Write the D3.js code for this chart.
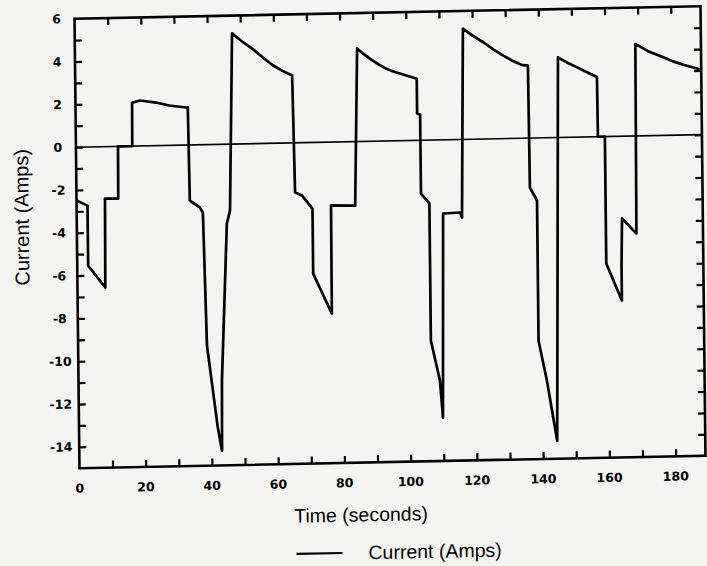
<!DOCTYPE html>
<html>
<head>
<meta charset="utf-8">
<script src="https://cdn.jsdelivr.net/npm/d3@7"></script>
<style>
  html, body { margin: 0; padding: 0; background: #f4f4f2; }
  #chart svg { display: block; }
</style>
</head>
<body>
<div id="chart"></div>
<script>
// Current trace
const timeSeconds = [
    0, 3.3, 3.3, 8.4, 8.6, 12.6, 12.7, 17.0, 17.1, 19.5, 24.3, 28.3, 33.4, 33.9,
    34.2, 37.2, 38.1, 38.9, 41.9, 43.1, 43.3, 45.3, 46.3, 47.5,
    50.5, 53.9, 56.8, 59.8, 62.6, 65.5,
    66.0, 68.1, 71.2, 71.2, 76.7, 76.8, 84.1, 85.2,
    87.0, 89.1, 91.5, 94.0, 96.5, 99.0, 103.1,
    103.1, 104.0, 104.0, 106.5, 106.5, 109.1, 109.9, 110.6, 115.7, 116.3, 117.2,
    120.0, 123.3, 126.3, 129.3, 132.0, 134.8, 136.7,
    136.9, 139.0, 139.0, 141.4, 144.3, 145.8,
    148.5, 151.4, 154.5, 157.5,
    157.6, 159.7, 159.7, 164.3, 164.3, 164.6, 168.9, 169.2,
    173.0, 177.6, 180.5, 183.6, 188.5
];
const currentAmps = [
    -2.49, -2.74, -5.54, -6.58, -2.43, -2.44, 0, 0, 2.02, 2.12, 2.01, 1.86, 1.75, 1.75,
    -2.60, -2.93, -3.17, -9.39, -13.23, -14.31, -11.04, -3.71, -3.10, 5.17,
    4.78, 4.39, 4.00, 3.63, 3.37, 3.15,
    -2.32, -2.47, -3.09, -6.13, -8.01, -2.96, -2.99, 4.35,
    4.10, 3.85, 3.60, 3.37, 3.21, 3.09, 2.88,
    1.25, 1.20, -2.49, -2.96, -9.36, -11.24, -12.98, -3.44, -3.41, -3.65, 5.18,
    4.85, 4.52, 4.18, 3.88, 3.63, 3.43, 3.39,
    -2.31, -2.92, -9.47, -11.35, -14.16, 3.74,
    3.50, 3.27, 3.02, 2.79,
    0, 0, -5.93, -7.67, -6.04, -3.84, -4.56, 4.30,
    3.95, 3.65, 3.45, 3.28, 3.06
];

// Axis ticks
const xTickLabels = [0, 20, 40, 60, 80, 100, 120, 140, 160, 180];
const xMinorTicks = [10, 20, 30, 40, 50, 60, 70, 80, 90, 100, 110, 120, 130, 140, 150, 160, 170, 180];
const yTickLabels = [6, 4, 2, 0, -2, -4, -6, -8, -10, -12, -14];
const yMinorTicks = [5, 4, 3, 2, 1, 0, -1, -2, -3, -4, -5, -6, -7, -8, -9, -10, -11, -12, -13, -14];

const xTitle = 'Time (seconds)';
const yTitle = 'Current (Amps)';
const legendLabel = 'Current (Amps)';

function drawChart() {
    const width = 707;
    const height = 566;
    const tickFont = "'DejaVu Sans', sans-serif";
    const titleFont = "'Liberation Sans', Arial, sans-serif";

    const svg = d3.select('#chart')
        .append('svg')
        .attr('width', width)
        .attr('height', height);

    // the scan is slightly skewed, so the whole figure is too
    const g = svg.append('g')
        .attr('transform', 'matrix(1,-0.02,0.011,1,-2.62,7.79)');

    const x = d3.scaleLinear().domain([0, 189]).range([77, 703]);
    const y = d3.scaleLinear().domain([-15, 6]).range([462, 12.5]);

    // tick marks pointing inward on all four sides
    const styleAxis = sel => {
        sel.select('.domain').remove();
        sel.selectAll('.tick line').attr('stroke', '#000').attr('stroke-width', 2.2);
    };

    g.append('g')
        .attr('transform', `translate(0,${y(-15)})`)
        .call(d3.axisBottom(x).tickValues(xMinorTicks).tickSize(-7).tickFormat(''))
        .call(styleAxis);

    g.append('g')
        .attr('transform', `translate(0,${y(6)})`)
        .call(d3.axisTop(x).tickValues(xMinorTicks).tickSize(-7).tickFormat(''))
        .call(styleAxis);

    g.append('g')
        .attr('transform', `translate(${x(0)},0)`)
        .call(d3.axisLeft(y).tickValues(yMinorTicks).tickSize(-7).tickFormat(''))
        .call(styleAxis);

    g.append('g')
        .attr('transform', `translate(${x(189)},0)`)
        .call(d3.axisRight(y).tickValues(yMinorTicks).tickSize(-7).tickFormat(''))
        .call(styleAxis);

    // tick labels
    g.append('g')
        .selectAll('text')
        .data(xTickLabels)
        .enter()
        .append('text')
        .attr('x', d => x(d))
        .attr('y', y(-15) + 20)
        .attr('dy', '0.35em')
        .attr('text-anchor', 'middle')
        .attr('font-family', tickFont)
        .attr('font-weight', 'bold')
        .attr('font-size', '12.5px')
        .text(d => d);

    g.append('g')
        .selectAll('text')
        .data(yTickLabels)
        .enter()
        .append('text')
        .attr('x', 59)
        .attr('y', d => y(d))
        .attr('dy', '0.35em')
        .attr('text-anchor', 'middle')
        .attr('font-family', tickFont)
        .attr('font-weight', 'bold')
        .attr('font-size', '12.5px')
        .text(d => d);

    // zero line
    g.append('line')
        .attr('x1', x(0))
        .attr('x2', x(189))
        .attr('y1', y(0))
        .attr('y2', y(0))
        .attr('stroke', '#000')
        .attr('stroke-width', 1.6);

    // current trace
    const points = timeSeconds.map((t, i) => [t, currentAmps[i]]);
    const line = d3.line().x(d => x(d[0])).y(d => y(d[1]));

    g.append('path')
        .datum(points)
        .attr('d', line)
        .attr('fill', 'none')
        .attr('stroke', '#000')
        .attr('stroke-width', 2.7)
        .attr('stroke-linejoin', 'round');

    // plot frame
    g.append('rect')
        .attr('x', x(0))
        .attr('y', y(6))
        .attr('width', x(189) - x(0))
        .attr('height', y(-15) - y(6))
        .attr('fill', 'none')
        .attr('stroke', '#000')
        .attr('stroke-width', 2.6);

    // axis titles
    g.append('text')
        .attr('x', 358)
        .attr('y', 514)
        .attr('dy', '0.35em')
        .attr('text-anchor', 'middle')
        .attr('font-family', titleFont)
        .attr('font-size', '19.5px')
        .text(xTitle);

    g.append('text')
        .attr('transform', 'translate(22,210) rotate(-90)')
        .attr('dy', '0.35em')
        .attr('text-anchor', 'middle')
        .attr('font-family', titleFont)
        .attr('font-size', '20px')
        .text(yTitle);

    // legend
    g.append('line')
        .attr('x1', 293)
        .attr('x2', 339)
        .attr('y1', 552)
        .attr('y2', 552)
        .attr('stroke', '#000')
        .attr('stroke-width', 2.2);

    g.append('text')
        .attr('x', 365)
        .attr('y', 552)
        .attr('dy', '0.35em')
        .attr('font-family', titleFont)
        .attr('font-size', '19.5px')
        .text(legendLabel);
}

drawChart();
</script>
</body>
</html>
